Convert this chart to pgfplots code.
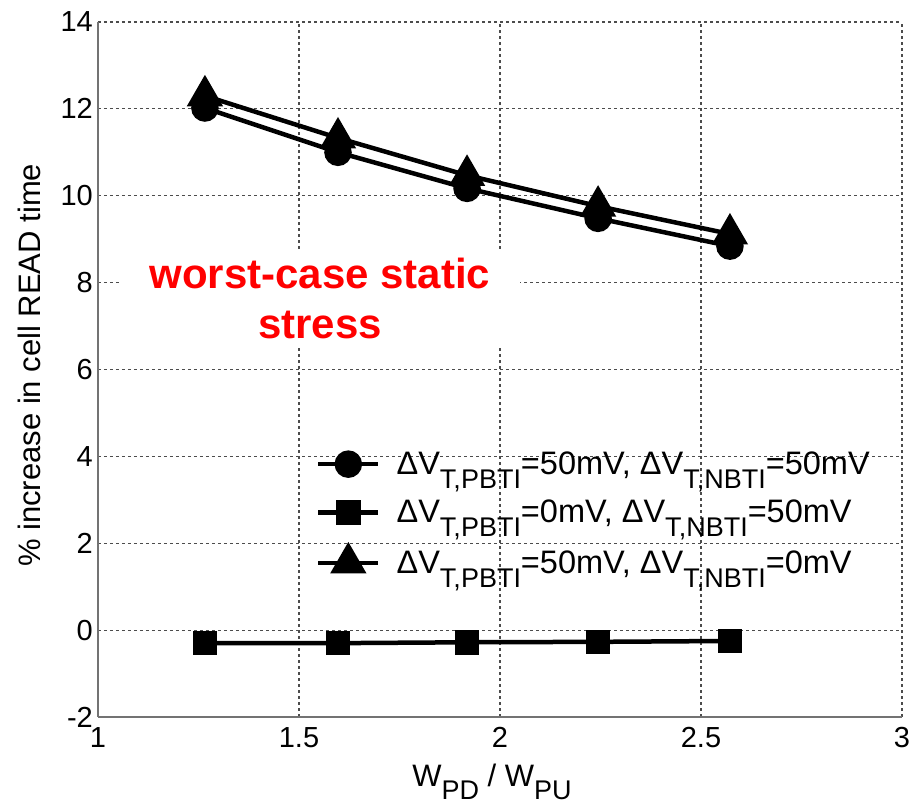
\documentclass[border=0pt]{standalone}
\usepackage{fontspec}
\setmainfont{Liberation Sans}
\usepackage{pgfplots}
\pgfplotsset{compat=1.18}
% lowered, slightly smaller subscript in the style of the original figure
\newcommand\sub[1]{\raisebox{-0.42em}{\fontsize{27}{27}\selectfont #1}}

\begin{document}
\begin{tikzpicture}
\begin{axis}[
  scale only axis, width=804pt, height=695pt,
  xmin=1, xmax=3, ymin=-2, ymax=14,
  axis x line=bottom, axis y line=left,
  axis line style={-, black!55, line width=1.5pt},
  xtick={1,1.5,2,2.5,3}, xticklabels={1,1.5,2,2.5,3},
  ytick={-2,0,2,4,6,8,10,12,14}, yticklabels={-2,0,2,4,6,8,10,12,14},
  major tick length=0pt,
  grid=major,
  major grid style={black!70, line width=1.2pt, dash pattern=on 3pt off 3pt},
  ticklabel style={font=\fontsize{29}{30}\selectfont, inner sep=0pt},
  xticklabel style={yshift=-10pt},
  yticklabel style={xshift=-5pt},
  xlabel={W\sub{PD} / W\sub{PU}},
  ylabel={\% increase in cell READ time},
  label style={font=\fontsize{31}{33}\selectfont},
  xlabel style={at={(rel axis cs:0.49,-0.0993)}, anchor=base},
  ylabel style={at={(rel axis cs:-0.085,0.506)}, anchor=center, rotate=0},
  legend style={at={(axis cs:1.542,4.15)}, anchor=north west, draw=none, fill=none,
    font=\fontsize{32.5}{34}\selectfont, row sep=20pt, column sep=14pt, inner sep=0pt},
  legend cell align=left,
  legend image code/.code={\draw[mark repeat=2,mark phase=2,#1] plot coordinates {(0pt,0pt) (30pt,0pt) (60pt,0pt)};},
  every axis plot/.append style={black, line width=4.5pt},
]
\addplot[mark=*, mark size=11.5pt] coordinates {
  (1.266,12.02) (1.597,11.00) (1.918,10.17) (2.244,9.48) (2.572,8.84)};
\addlegendentry{ΔV\sub{T,PBTI}=50mV, ΔV\sub{T,NBTI}=50mV}
\addplot[mark=square*, mark size=10pt] coordinates {
  (1.266,-0.30) (1.597,-0.30) (1.918,-0.28) (2.244,-0.27) (2.572,-0.25)};
\addlegendentry{ΔV\sub{T,PBTI}=0mV, ΔV\sub{T,NBTI}=50mV}
\addplot[mark=triangle*, mark size=16.5pt] coordinates {
  (1.266,12.30) (1.597,11.33) (1.918,10.47) (2.244,9.76) (2.572,9.12)};
\addlegendentry{ΔV\sub{T,PBTI}=50mV, ΔV\sub{T,NBTI}=0mV}
\node[fill=white, text=red, font=\bfseries\fontsize{42}{50}\selectfont, align=center,
  inner xsep=30pt, inner ysep=6pt] at (axis cs:1.552,7.64) {worst-case static\\stress};
\end{axis}
\pgfresetboundingbox
\path (-98pt,-86pt) rectangle (813pt,717pt);
\end{tikzpicture}
\end{document}
